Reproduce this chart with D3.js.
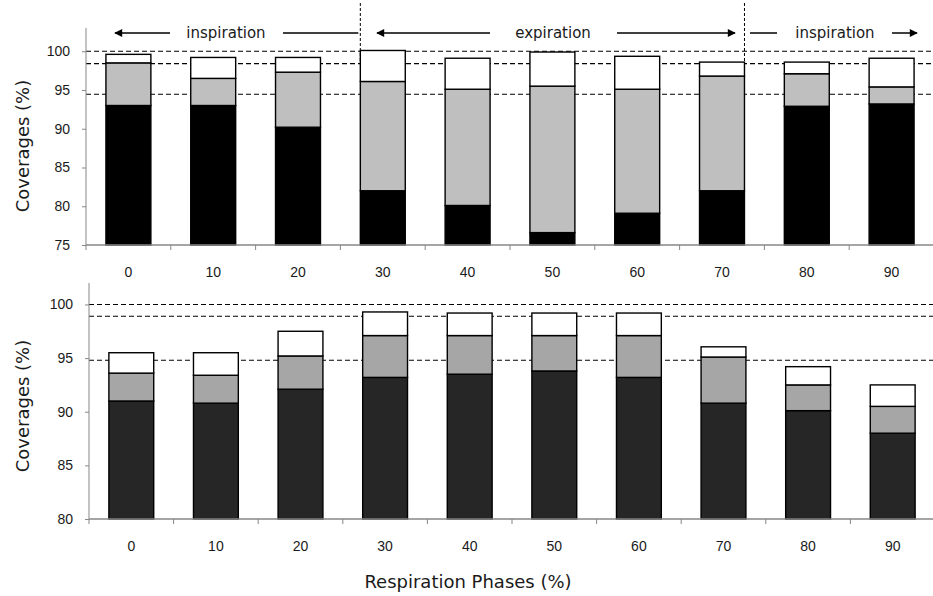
<!DOCTYPE html>
<html>
<head>
<meta charset="utf-8">
<script src="https://cdn.jsdelivr.net/npm/d3@7"></script>
<style>
  body { margin: 0; background: #fff; }
  svg { display: block; font-family: "DejaVu Sans", Verdana, sans-serif; }
  .axis path, .axis line { stroke: #878787; }
  .axis text { font-size: 14px; fill: #1a1a1a; }
</style>
</head>
<body>
<svg id="chart" width="933" height="596"></svg>
<script>
// phases along x
const phases = ['0', '10', '20', '30', '40', '50', '60', '70', '80', '90'];

// top panel: cumulative coverage levels (bottom black, gray, white)
const topBlack = [93.0, 93.0, 90.2, 82.0, 80.1, 76.6, 79.1, 82.0, 92.9, 93.2];
const topGray  = [98.5, 96.5, 97.3, 96.1, 95.1, 95.5, 95.1, 96.8, 97.1, 95.4];
const topWhite = [99.6, 99.2, 99.2, 100.1, 99.1, 99.9, 99.35, 98.6, 98.6, 99.1];
const topRefs  = [100, 98.4, 94.45];

// bottom panel
const botBlack = [91.0, 90.8, 92.1, 93.2, 93.5, 93.8, 93.2, 90.8, 90.1, 88.0];
const botGray  = [93.6, 93.4, 95.2, 97.1, 97.1, 97.1, 97.1, 95.1, 92.5, 90.5];
const botWhite = [95.5, 95.5, 97.5, 99.3, 99.2, 99.2, 99.2, 96.05, 94.2, 92.5];
const botRefs  = [100, 98.9, 94.8];

const topTicks = [75, 80, 85, 90, 95, 100];
const botTicks = [80, 85, 90, 95, 100];

const svg = d3.select('#chart');

function panel(opts) {
  const g = svg.append('g');
  const x = d3.scaleBand().domain(phases)
    .range([opts.x0, opts.x1]).paddingInner(0.47).paddingOuter(0.235);
  const y = d3.scaleLinear().domain(opts.domain).range([opts.yBottom, opts.yTop]);

  // reference dashed lines
  g.selectAll('line.ref').data(opts.refs).join('line')
    .attr('class', 'ref')
    .attr('x1', opts.x0).attr('x2', 933)
    .attr('y1', d => y(d)).attr('y2', d => y(d))
    .attr('stroke', '#000').attr('stroke-width', 1.1)
    .attr('stroke-dasharray', '5,3');

  // stacked bars, drawn as segments
  const rows = phases.map((p, i) => ({
    p,
    segs: [
      { lo: opts.domain[0], hi: opts.black[i], fill: opts.colors[0] },
      { lo: opts.black[i], hi: opts.gray[i], fill: opts.colors[1] },
      { lo: opts.gray[i], hi: opts.white[i], fill: '#fff' }
    ]
  }));
  const bar = g.selectAll('g.bar').data(rows).join('g').attr('class', 'bar');
  bar.selectAll('rect').data(d => d.segs.map(s => ({ ...s, p: d.p }))).join('rect')
    .attr('x', d => x(d.p))
    .attr('width', x.bandwidth())
    .attr('y', d => y(d.hi))
    .attr('height', d => Math.max(0, y(d.lo) - y(d.hi)))
    .attr('fill', d => d.fill)
    .attr('stroke', '#000').attr('stroke-width', 1.4);

  // y axis
  g.append('g').attr('class', 'axis')
    .attr('transform', `translate(${opts.x0},0)`)
    .call(d3.axisLeft(y).tickValues(opts.ticks).tickSize(4).tickPadding(12))
    .call(a => a.select('.domain').attr('d', `M0,${opts.yTop}V${opts.yBottom}`));

  // x axis: labels centred on bands, ticks on band boundaries
  const ax = g.append('g').attr('class', 'axis')
    .attr('transform', `translate(0,${opts.yBottom})`)
    .call(d3.axisBottom(x).tickSize(0).tickPadding(22));
  ax.select('.domain').attr('d', `M${opts.x0},0H933`).attr('stroke-width', 1.5);
  ax.selectAll('line.bnd').data(d3.range(phases.length + 1)).join('line')
    .attr('class', 'bnd')
    .attr('x1', i => opts.x0 + i * x.step()).attr('x2', i => opts.x0 + i * x.step())
    .attr('y1', 0).attr('y2', 5);

  // y title
  g.append('text')
    .attr('transform', `translate(29,${opts.titleY}) rotate(-90)`)
    .attr('text-anchor', 'middle')
    .attr('font-size', 18).attr('fill', '#1a1a1a')
    .text('Coverages (%)');

  return { x, y };
}

const topPanel = panel({
  x0: 86, x1: 934, yTop: 28, yBottom: 245, domain: [75, 103],
  black: topBlack, gray: topGray, white: topWhite, refs: topRefs,
  ticks: topTicks, colors: ['#000', '#bfbfbf'], titleY: 146
});

panel({
  x0: 89, x1: 935, yTop: 283, yBottom: 519, domain: [80, 102],
  black: botBlack, gray: botGray, white: botWhite, refs: botRefs,
  ticks: botTicks, colors: ['#262626', '#a6a6a6'], titleY: 406
});

svg.append('text')
  .attr('x', 468).attr('y', 588)
  .attr('text-anchor', 'middle')
  .attr('font-size', 18).attr('fill', '#1a1a1a')
  .text('Respiration Phases (%)');

// respiration phase annotations above the top panel
const defs = svg.append('defs');
defs.append('marker')
  .attr('id', 'head')
  .attr('viewBox', '0 -5 10 10')
  .attr('refX', 9).attr('refY', 0)
  .attr('markerWidth', 10).attr('markerHeight', 8)
  .attr('markerUnits', 'userSpaceOnUse')
  .attr('orient', 'auto')
  .append('path').attr('d', 'M0,-5L10,0L0,5Z').attr('fill', '#000');

const ay = 33;
const split1 = topPanel.x('30');
const split2 = topPanel.x('70') + topPanel.x.bandwidth();

[split1, split2].forEach(sx => {
  svg.append('line')
    .attr('x1', sx).attr('x2', sx).attr('y1', 3).attr('y2', 62)
    .attr('stroke', '#000').attr('stroke-width', 1)
    .attr('stroke-dasharray', '3,2');
});

const arrows = [
  { from: 170, to: 115, head: true },
  { from: 283, to: split1 - 2, head: false },
  { from: 490, to: 377, head: true },
  { from: 617, to: 735, head: true },
  { from: 750, to: 777, head: false },
  { from: 892, to: 917, head: true }
];
svg.selectAll('line.arr').data(arrows).join('line')
  .attr('class', 'arr')
  .attr('x1', d => d.from).attr('x2', d => d.to)
  .attr('y1', ay).attr('y2', ay)
  .attr('stroke', '#000').attr('stroke-width', 1.5)
  .attr('marker-end', d => d.head ? 'url(#head)' : null);

const phaseLabels = [
  { text: 'inspiration', x: 226 },
  { text: 'expiration', x: 553 },
  { text: 'inspiration', x: 835 }
];
svg.selectAll('text.phase').data(phaseLabels).join('text')
  .attr('class', 'phase')
  .attr('x', d => d.x).attr('y', ay + 5)
  .attr('text-anchor', 'middle')
  .attr('font-size', 15).attr('fill', '#1a1a1a')
  .text(d => d.text);
</script>
</body>
</html>
